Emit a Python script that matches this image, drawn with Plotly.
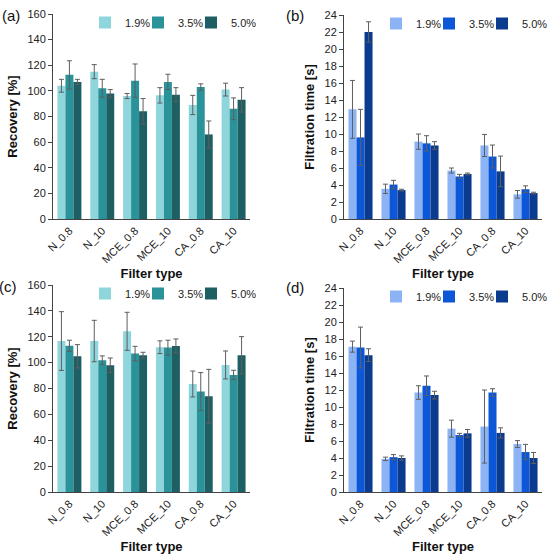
import plotly.graph_objects as go

filters = ["N_0.8", "N_10", "MCE_0.8", "MCE_10", "CA_0.8", "CA_10"]
concs = ["1.9%", "3.5%", "5.0%"]

# (a) recovery, first set
rec_a = [[104, 115, 96, 96.5, 89, 101],
         [112.5, 102, 108, 107, 103, 86],
         [107, 98, 84, 97, 66, 93]]
rec_a_err = [[5, 5.5, 2, 6, 7.5, 5],
             [11, 7, 13, 6, 2.5, 8.5],
             [2, 3, 10, 5.5, 10.5, 9.5]]

# (b) filtration time, first set
time_b = [[12.9, 3.55, 9.1, 5.7, 8.65, 2.9],
          [9.6, 4.05, 8.9, 5.0, 7.35, 3.5],
          [22.0, 3.4, 8.65, 5.3, 5.6, 3.05]]
time_b_err = [[3.4, 0.55, 0.9, 0.3, 1.3, 0.45],
              [3.3, 0.5, 0.9, 0.25, 1.35, 0.4],
              [1.2, 0.1, 0.45, 0.1, 1.8, 0.1]]

# (c) recovery, second set
rec_c = [[116.7, 116.7, 124.2, 111.9, 83.5, 98.2],
         [113, 101.8, 107, 111.6, 77.6, 90.5],
         [104.9, 98, 105.7, 112.9, 74, 105.7]]
rec_c_err = [[22.7, 16, 14.7, 4.9, 10, 10.8],
             [4.3, 3.4, 5.6, 5.7, 14.7, 3.6],
             [9, 5.6, 2.3, 5.4, 20.8, 14.4]]

# (d) filtration time, second set
time_d = [[17.1, 3.9, 11.7, 7.45, 7.7, 5.65],
          [17.0, 4.1, 12.5, 6.7, 11.7, 4.7],
          [16.1, 4.0, 11.4, 6.9, 6.95, 4.0]]
time_d_err = [[0.65, 0.2, 0.8, 1.0, 4.3, 0.4],
              [2.4, 0.3, 1.15, 0.2, 0.45, 0.9],
              [0.75, 0.25, 0.45, 0.45, 0.6, 0.65]]

teal = ["#8fd5dc", "#2a9399", "#1e5f64"]
blue = ["#8cb4f5", "#0b57d8", "#0a3b8f"]

W, H = 550, 560
font = "Liberation Sans, Arial, sans-serif"

panels = [
    # values, errors, colours, x px range, y px range (top, bottom), label + its px pos, ymax, dtick, ytitle
    (rec_a, rec_a_err, teal, (53, 250), (14, 219), ("(a)", 11, 15), 160, 20, "Recovery [%]"),
    (time_b, time_b_err, blue, (344, 542), (15, 219), ("(b)", 295, 15), 24, 2, "Filtration time [s]"),
    (rec_c, rec_c_err, teal, (53, 250), (285, 492), ("(c)", 8, 286), 160, 20, "Recovery [%]"),
    (time_d, time_d_err, blue, (344, 542), (288, 492), ("(d)", 295, 287), 24, 2, "Filtration time [s]"),
]

fig = go.Figure()
layout = {}
annotations = []

for i, (vals, errs, cols, xr, yr, lab, ymax, dt, ytitle) in enumerate(panels):
    n = "" if i == 0 else str(i + 1)
    leg = "legend" + n
    for k, c in enumerate(concs):
        fig.add_trace(go.Bar(
            x=filters, y=vals[k], name=c,
            marker=dict(color=cols[k], line=dict(width=0)),
            error_y=dict(type="data", array=errs[k], color="#5e5e5e",
                         thickness=1, width=2.5),
            xaxis="x" + n, yaxis="y" + n, legend=leg,
        ))
    # empty legend slot so the last legend label is not clipped
    fig.add_trace(go.Scatter(
        x=[None], y=[None], mode="markers", name=" ",
        marker=dict(color="rgba(0,0,0,0)", size=1), hoverinfo="skip",
        xaxis="x" + n, yaxis="y" + n, legend=leg,
    ))
    layout["xaxis" + n] = dict(
        domain=[xr[0] / W, xr[1] / W], anchor="y" + n, automargin=False,
        tickangle=-45, showline=True, linecolor="#444", linewidth=1,
        ticks="", tickfont=dict(size=11, color="#222", family=font),
        title=dict(text="<b>Filter type</b>", font=dict(size=13, color="#111", family=font),
                   standoff=4),
        showgrid=False,
    )
    layout["yaxis" + n] = dict(
        domain=[1 - yr[1] / H, 1 - yr[0] / H], anchor="x" + n, automargin=False,
        range=[0, ymax], dtick=dt, showline=True, linecolor="#444", linewidth=1,
        ticks="outside", ticklen=4, tickcolor="#444",
        tickfont=dict(size=11, color="#222", family=font),
        title=dict(text="<b>" + ytitle + "</b>", font=dict(size=13, color="#111", family=font),
                   standoff=6),
        showgrid=False, zeroline=False,
    )
    layout[leg] = dict(
        orientation="h", x=(xr[0] + 32) / W, y=1 - (yr[0] - 6) / H,
        xanchor="left", yanchor="top", bgcolor="rgba(0,0,0,0)",
        font=dict(size=11, color="#222", family=font),
        entrywidth=8, entrywidthmode="pixels", itemwidth=30,
    )
    annotations.append(dict(
        text=lab[0], x=lab[1] / W, y=1 - lab[2] / H, xref="paper", yref="paper",
        xanchor="center", yanchor="middle", showarrow=False,
        font=dict(size=15, color="#111", family=font),
    ))

fig.update_layout(
    **layout,
    annotations=annotations,
    barmode="group", bargap=0.27, bargroupgap=0,
    width=W, height=H, margin=dict(l=0, r=0, t=0, b=0, autoexpand=False),
    plot_bgcolor="white", paper_bgcolor="white",
    font=dict(family=font),
)

fig.write_html("out.html", config={"displayModeBar": False},
               post_script="document.body.style.margin='0';")
